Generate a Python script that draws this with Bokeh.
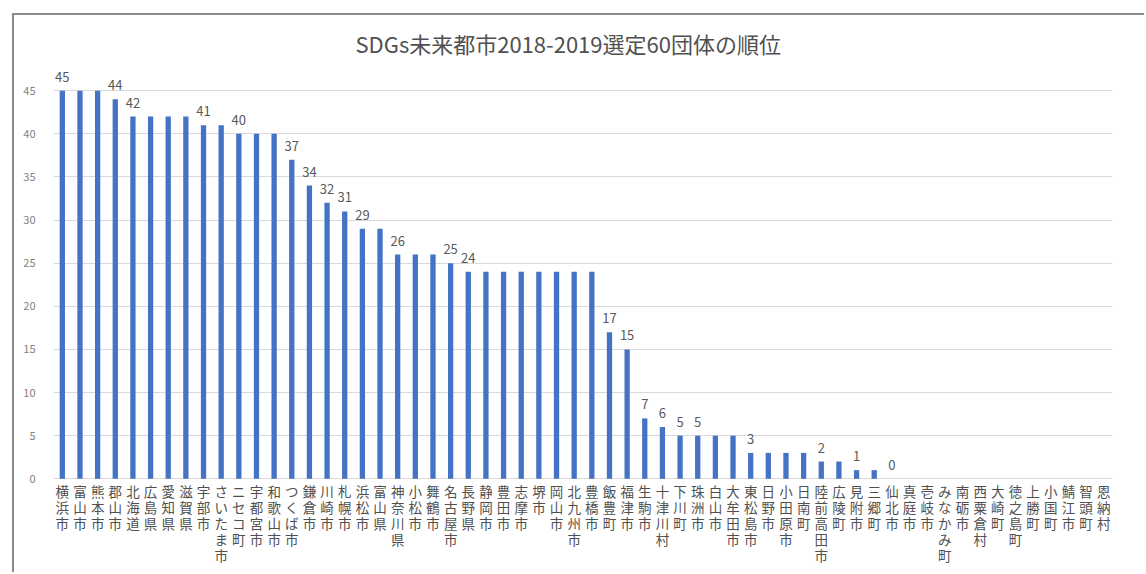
from bokeh.plotting import figure
from bokeh.models import FactorRange, Range1d, FixedTicker, ColumnDataSource
from bokeh.core.properties import value
from bokeh.embed import file_html
from bokeh.resources import INLINE

title_text = "SDGs未来都市2018-2019選定60団体の順位"

cities = [
    "横浜市", "富山市", "熊本市", "郡山市", "北海道", "広島県", "愛知県", "滋賀県", "宇部市", "さいたま市",
    "ニセコ町", "宇都宮市", "和歌山市", "つくば市", "鎌倉市", "川崎市", "札幌市", "浜松市", "富山県", "神奈川県",
    "小松市", "舞鶴市", "名古屋市", "長野県", "静岡市", "豊田市", "志摩市", "堺市", "岡山市", "北九州市",
    "豊橋市", "飯豊町", "福津市", "生駒市", "十津川村", "下川町", "珠洲市", "白山市", "大牟田市", "東松島市",
    "日野市", "小田原市", "日南町", "陸前高田市", "広陵町", "見附市", "三郷町", "仙北市", "真庭市", "壱岐市",
    "みなかみ町", "南砺市", "西粟倉村", "大崎町", "徳之島町", "上勝町", "小国町", "鯖江市", "智頭町", "恩納村",
]

scores = [
    45, 45, 45, 44, 42, 42, 42, 42, 41, 41,
    40, 40, 40, 37, 34, 32, 31, 29, 29, 26,
    26, 26, 25, 24, 24, 24, 24, 24, 24, 24,
    24, 17, 15, 7, 6, 5, 5, 5, 5, 3,
    3, 3, 3, 2, 2, 1, 1, 0, 0, 0,
    0, 0, 0, 0, 0, 0, 0, 0, 0, 0,
]

# cities whose value carries a data label in the reference
labelled = [
    "横浜市", "郡山市", "北海道", "宇部市", "ニセコ町", "つくば市", "鎌倉市", "川崎市", "札幌市", "浜松市",
    "神奈川県", "名古屋市", "長野県", "飯豊町", "福津市", "生駒市", "十津川村", "下川町", "珠洲市", "東松島市",
    "陸前高田市", "見附市", "仙北市",
]

y_ticks = [0, 5, 10, 15, 20, 25, 30, 35, 40, 45]

GRAY = "#595959"
FONT = "Noto Sans CJK JP"

p = figure(
    width=1132, height=559,
    x_range=FactorRange(factors=cities, range_padding=0),
    y_range=Range1d(-11.1, 48.5),
    output_backend="svg", toolbar_location=None,
    min_border_left=39, min_border_right=34, min_border_top=45, min_border_bottom=0,
)
p.styles = {"margin-left": "12px", "margin-top": "13px",
            "border-left": "2px solid #8a8a8a", "border-top": "2px solid #8a8a8a"}
p.outline_line_color = None
p.background_fill_color = "white"
p.border_fill_color = "white"

p.title.text = title_text
p.title.align = "left"
p.title.text_font = FONT
p.title.text_font_size = "22px"
p.title.text_font_style = "normal"
p.title.text_color = "#505050"
p.title.offset = 302
p.title.standoff = 4

src = ColumnDataSource(dict(city=cities, score=scores,
                            stacked=["\n".join(c) for c in cities],
                            base=[0] * len(cities)))
p.vbar(x="city", top="score", width=0.3, source=src, fill_color="#4472C4", line_color=None)

# category labels: characters stacked vertically under each bar
p.text(x="city", y="base", text="stacked", source=src, text_align="center", text_baseline="top",
       y_offset=2, text_font=value(FONT), text_font_size="13.5px", text_color="#505050",
       text_line_height=0.8)

lab_vals = [scores[cities.index(c)] for c in labelled]
lsrc = ColumnDataSource(dict(city=labelled, score=lab_vals, txt=[str(v) for v in lab_vals]))
p.text(x="city", y="score", text="txt", source=lsrc, text_align="center", text_baseline="bottom",
       y_offset=-9, text_font=value(FONT), text_font_size="13px", text_color=GRAY)

# y axis
p.yaxis.ticker = FixedTicker(ticks=y_ticks)
p.yaxis.axis_line_color = None
p.yaxis.major_tick_line_color = None
p.yaxis.minor_tick_line_color = None
p.yaxis.major_label_text_font = FONT
p.yaxis.major_label_text_font_size = "11px"
p.yaxis.major_label_text_color = "#7f7f7f"
p.yaxis.major_label_standoff = 12

p.xaxis.visible = False

p.xgrid.grid_line_color = None
p.ygrid.ticker = FixedTicker(ticks=y_ticks)
p.ygrid.grid_line_color = "#d9d9d9"
p.ygrid.grid_line_width = 1

open("out.html", "w").write(file_html(p, INLINE))
